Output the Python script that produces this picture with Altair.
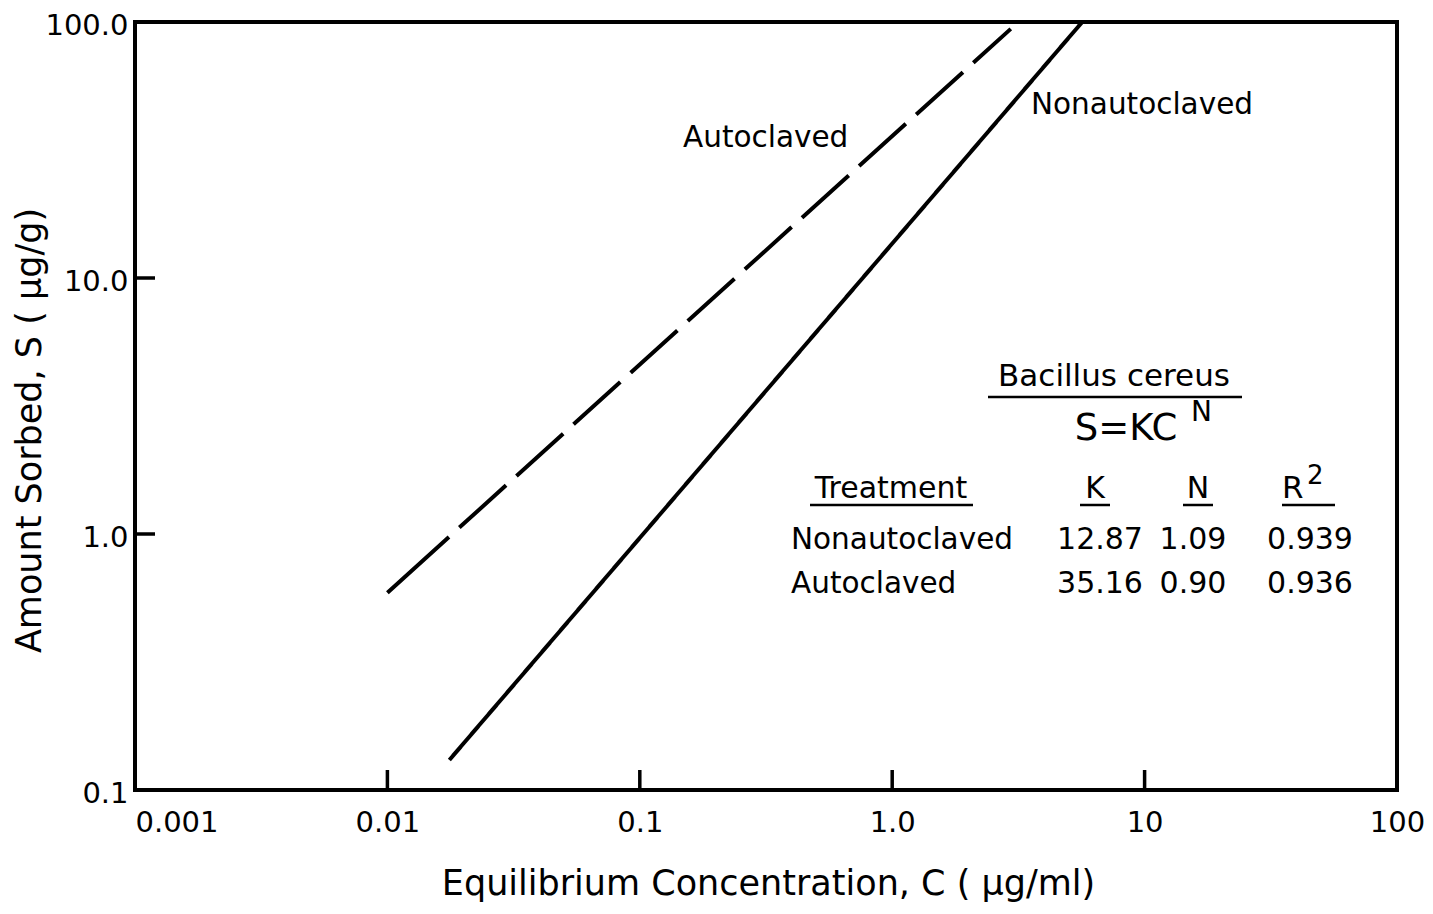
import altair as alt
import pandas as pd

# ---------------- data ----------------
series = ["Nonautoclaved", "Nonautoclaved", "Autoclaved", "Autoclaved"]
conc = [0.0176, 5.66, 0.0100, 2.95]          # C (ug/ml)
sorbed = [0.131, 100.0, 0.59, 94.0]          # S (ug/g)

x_tick_values = [0.001, 0.01, 0.1, 1, 10, 100]
x_tick_labels = ["0.001", "0.01", "0.1", "1.0", "10", "100"]
y_tick_values = [0.1, 1, 10, 100]
y_tick_labels = ["0.1", "1.0", "10.0", "100.0"]
x_inner_ticks = [0.01, 0.1, 1, 10]
y_inner_ticks = [1, 10]

treatments = ["Nonautoclaved", "Autoclaved"]
k_values = ["12.87", "35.16"]
n_values = ["1.09", "0.90"]
r2_values = ["0.939", "0.936"]

# ---------------- layout ----------------
W, H = 1262, 768
OX, OY = 135, 22          # page position of plot origin
FONT = "DejaVu Sans"


def label_expr(vals, labels):
    expr = repr(labels[-1])
    for i in range(len(vals) - 2, -1, -1):
        mid = (vals[i] * vals[i + 1]) ** 0.5
        expr = f"datum.value < {mid} ? {labels[i]!r} : ({expr})"
    return expr


xscale = alt.Scale(type="log", domain=[0.001, 100], nice=False)
yscale = alt.Scale(type="log", domain=[0.1, 100], nice=False)

xaxis = alt.Axis(
    values=x_tick_values,
    labelExpr=label_expr(x_tick_values, x_tick_labels),
    labelAlign={"condition": {"test": "datum.value < 0.003", "value": "left"}, "value": "center"},
    labelBaseline="top",
    labelPadding=18,
    labelOverlap=False,
    labelFlush=False,
    title="Equilibrium Concentration, C ( \u03bcg/ml)",
    titleX=633,
    titleY=104,
    titleAlign="center",
    titleBaseline="alphabetic",
    titleFontSize=35,
)
yaxis = alt.Axis(
    values=y_tick_values,
    labelExpr=label_expr(y_tick_values, y_tick_labels),
    labelAlign="right",
    labelBaseline="middle",
    labelPadding=7,
    labelOffset=3,
    labelOverlap=False,
    labelFlush=False,
    title="Amount Sorbed, S ( \u03bcg/g)",
    titleX=-95,
    titleY=408,
    titleAngle=270,
    titleAlign="center",
    titleBaseline="alphabetic",
    titleFontSize=35,
)

df = pd.DataFrame({"series": series, "C": conc, "S": sorbed})

dash_auto = [83, 14] + [63, 14] * 12

lines = alt.Chart(df).mark_line(color="black", strokeWidth=4, strokeCap="butt", clip=True).encode(
    x=alt.X("C:Q", scale=xscale, axis=xaxis),
    y=alt.Y("S:Q", scale=yscale, axis=yaxis),
    detail="series:N",
    strokeDash=alt.StrokeDash(
        "series:N",
        scale=alt.Scale(domain=["Nonautoclaved", "Autoclaved"], range=[[1, 0], dash_auto]),
        legend=None,
    ),
)

xticks = alt.Chart(pd.DataFrame({"C": x_inner_ticks})).mark_rule(color="black", strokeWidth=3.5).encode(
    x=alt.X("C:Q", scale=xscale, axis=xaxis),
    y=alt.value(H),
    y2=alt.value(H - 20),
)
yticks = alt.Chart(pd.DataFrame({"S": y_inner_ticks})).mark_rule(color="black", strokeWidth=3.5).encode(
    y=alt.Y("S:Q", scale=yscale, axis=yaxis),
    x=alt.value(0),
    x2=alt.value(20),
)


def text(t, px, py, size=28, align="left", baseline="alphabetic"):
    return alt.Chart(pd.DataFrame({"t": [t]})).mark_text(
        font=FONT, fontSize=size, align=align, baseline=baseline, color="black"
    ).encode(text="t:N", x=alt.value(px - OX), y=alt.value(py - OY))


def uline(x1, x2, py):
    return alt.Chart(pd.DataFrame({"u": [0]})).mark_rule(color="black", strokeWidth=2.5).encode(
        x=alt.value(x1 - OX), x2=alt.value(x2 - OX), y=alt.value(py - OY)
    )


ann = [
    text(treatments[1], 683, 147, 29.5),
    text(treatments[0], 1031, 114, 29.5),
    text("Bacillus cereus", 1114, 386, 31, align="center"),
    uline(988, 1242, 397),
    text("S=KC", 1126, 440, 37, align="center"),
    text("N", 1191, 421, 28),
    text("Treatment", 891, 498, 30, align="center"),
    uline(810, 973, 505),
    text("K", 1095, 498, 30, align="center"),
    uline(1080, 1110, 505),
    text("N", 1198, 498, 30, align="center"),
    uline(1183, 1213, 505),
    text("R", 1282, 498, 31),
    text("2", 1307, 484, 26),
    uline(1282, 1335, 505),
]
row_base = [549, 593]
for i in range(2):
    ann.append(text(treatments[i], 791, row_base[i], 29.5))
    ann.append(text(k_values[i], 1100, row_base[i], 30, align="center"))
    ann.append(text(n_values[i], 1193, row_base[i], 30, align="center"))
    ann.append(text(r2_values[i], 1310, row_base[i], 30, align="center"))

chart = alt.layer(lines, xticks, yticks, *ann).properties(
    width=W,
    height=H,
    autosize=alt.AutoSizeParams(type="none"),
    padding={"left": OX - 8, "top": OY - 8, "right": 28, "bottom": 118},
    background="white",
).configure_view(
    stroke="black", strokeWidth=4
).configure_axis(
    domain=False,
    grid=False,
    ticks=False,
    labelFont=FONT,
    labelFontSize=29,
    labelColor="black",
    titleFont=FONT,
    titleFontWeight="normal",
    titleColor="black",
)

chart.save("out.html", embed_options={"renderer": "svg", "actions": False})
